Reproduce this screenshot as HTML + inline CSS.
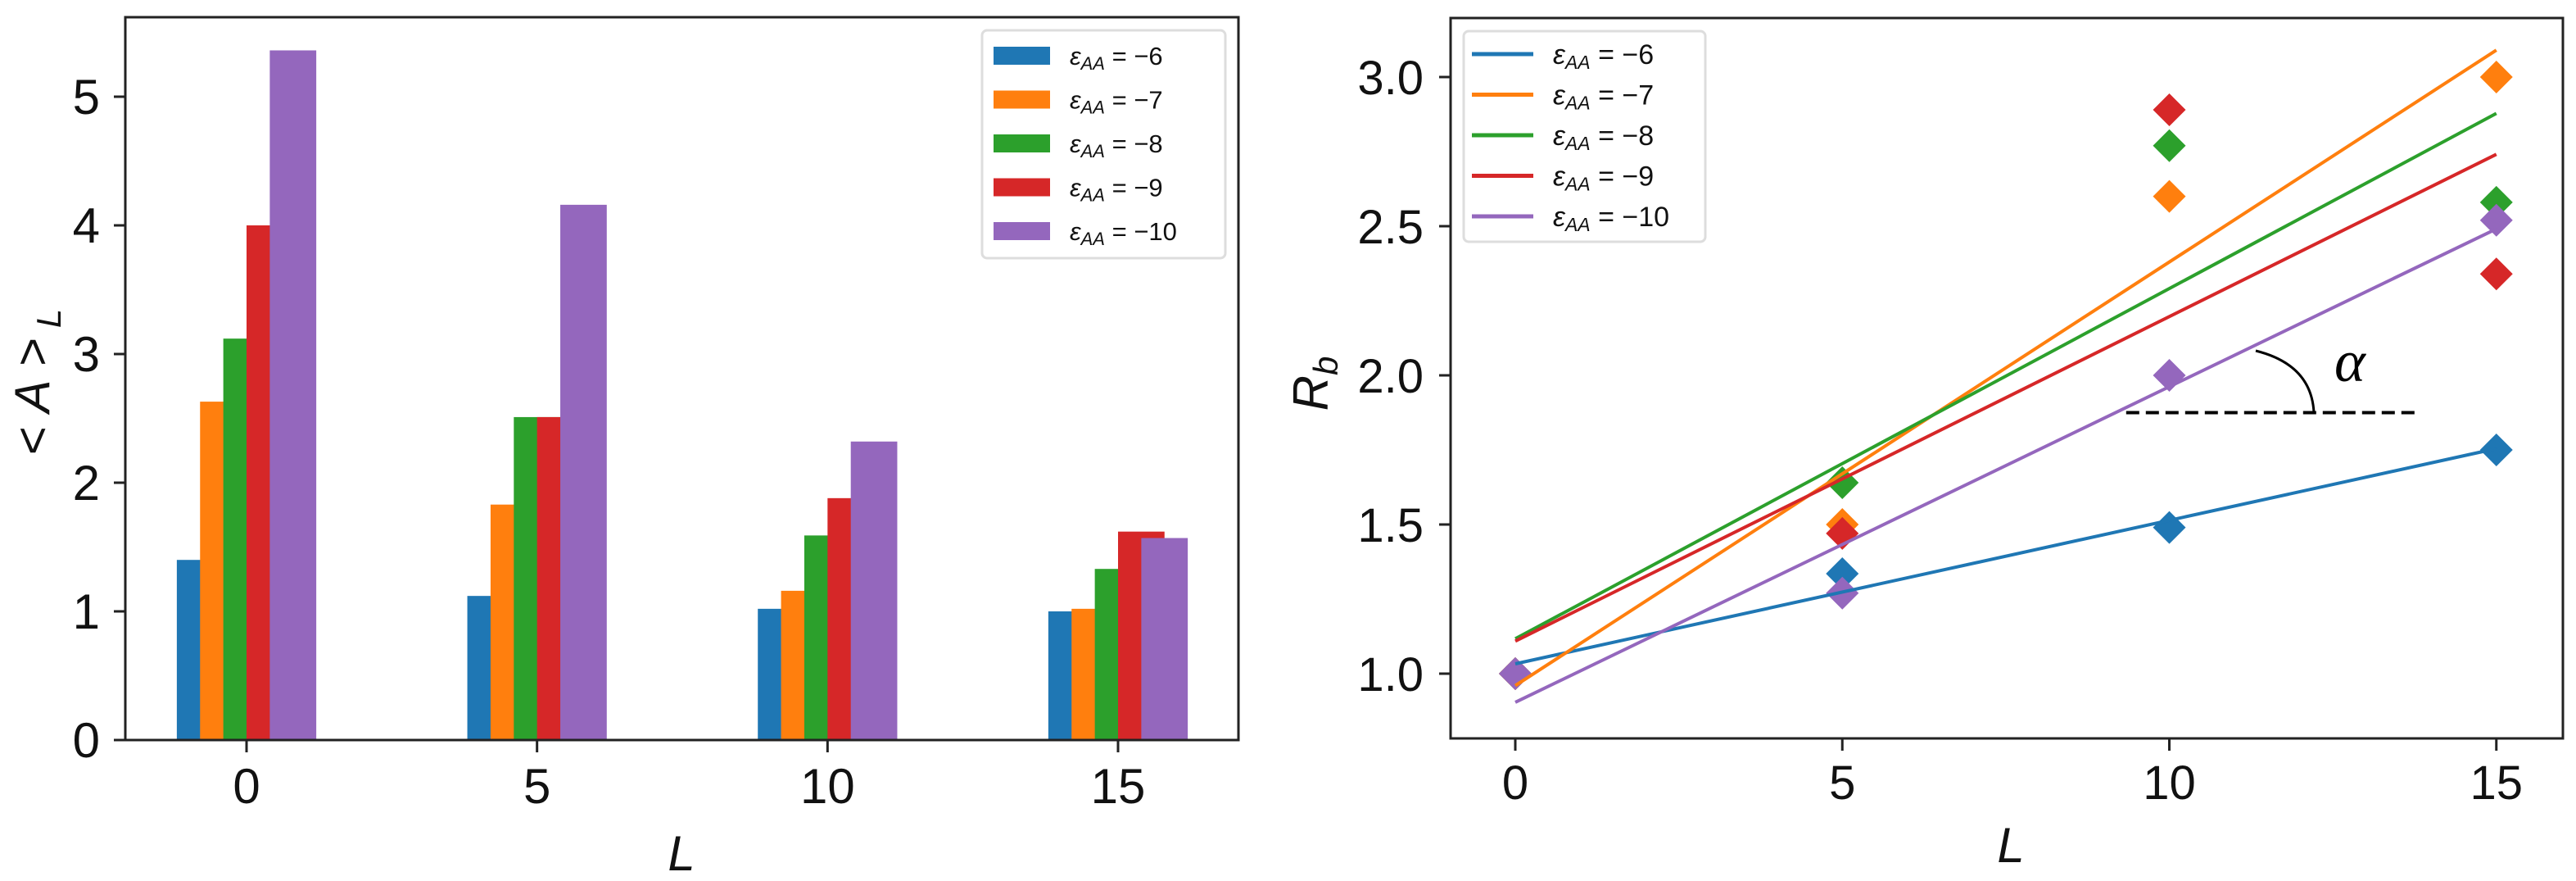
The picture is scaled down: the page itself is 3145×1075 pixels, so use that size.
<!DOCTYPE html>
<html><head><meta charset="utf-8">
<style>
html,body{margin:0;padding:0;background:#fff;}
svg{display:block;font-family:"Liberation Sans","DejaVu Sans",sans-serif;}
</style></head>
<body>
<svg id="fig" width="3145" height="1075" viewBox="0 0 3145 1075" xmlns="http://www.w3.org/2000/svg">
  <rect x="0" y="0" width="3145" height="1075" fill="#fff"/>
  <g id="left"></g>
  <g id="right"></g>
</svg>
<script>
// ---------- data ----------
const seriesLabels = ["−6", "−7", "−8", "−9", "−10"];
const colors = ["#1f77b4", "#ff7f0e", "#2ca02c", "#d62728", "#9467bd"];
const barCategories = [0, 5, 10, 15];
const barEps6 = [1.40, 1.12, 1.02, 1.00];
const barEps7 = [2.63, 1.83, 1.16, 1.02];
const barEps8 = [3.12, 2.51, 1.59, 1.33];
const barEps9 = [4.00, 2.51, 1.88, 1.62];
const barEps10 = [5.36, 4.16, 2.32, 1.57];
const leftYTicks = [0, 1, 2, 3, 4, 5];
const leftXTicks = [0, 5, 10, 15];

const ptX = [0, 5, 10, 15];
const rbEps6 = [1.00, 1.335, 1.49, 1.75];
const rbEps7 = [1.00, 1.50, 2.60, 3.00];
const rbEps8 = [1.00, 1.64, 2.77, 2.58];
const rbEps9 = [1.00, 1.47, 2.89, 2.34];
const rbEps10 = [1.00, 1.27, 2.00, 2.52];
const rightYTicks = [1.0, 1.5, 2.0, 2.5, 3.0];
const rightXTicks = [0, 5, 10, 15];
const dashY = [1.875];
const dashXRange = [9.34, 13.8];

const NS = "http://www.w3.org/2000/svg";
function mk(tag, attrs, parent) {
  const e = document.createElementNS(NS, tag);
  for (const k in attrs) e.setAttribute(k, attrs[k]);
  parent.appendChild(e);
  return e;
}

// ---------- left chart ----------
const L = document.getElementById('left');
const lx = v => 301 + (v - 0) * (1365 - 301) / 15;
const ly = v => 903 - v * 157;
const barSets = [barEps6, barEps7, barEps8, barEps9, barEps10];
const barW = 0.8;
barSets.forEach((vals, s) => {
  vals.forEach((v, i) => {
    const c = barCategories[i] + (s - 2) * 0.4;
    const r = mk('rect', {x: lx(c - barW / 2), y: ly(v), width: lx(barW) - lx(0), height: ly(0) - ly(v), fill: colors[s]}, L);
    
    
  });
});
let fr = mk('rect', {x: 153, y: 21, width: 1512 - 153, height: 903 - 21, fill: 'none', stroke: '#222', 'stroke-width': 3}, L);


leftYTicks.forEach(t => {
  mk('line', {x1: 139, x2: 153, y1: ly(t), y2: ly(t), stroke: '#222', 'stroke-width': 3}, L);
  const tx = mk('text', {x: 122, y: ly(t) + 21, 'font-size': 60, 'text-anchor': 'end', fill: '#111'}, L);
  tx.textContent = t;
  
  
});
leftXTicks.forEach(t => {
  mk('line', {x1: lx(t), x2: lx(t), y1: 903, y2: 918, stroke: '#222', 'stroke-width': 3}, L);
  const tx = mk('text', {x: lx(t), y: 980, 'font-size': 60, 'text-anchor': 'middle', fill: '#111'}, L);
  tx.textContent = t;
  
  
});
let xl = mk('text', {x: 832, y: 1062, 'font-size': 60, 'font-style': 'italic', 'text-anchor': 'middle', fill: '#111'}, L);
xl.textContent = 'L';


let yl = mk('text', {x: 0, y: 0, 'font-size': 60, 'text-anchor': 'middle', fill: '#111', transform: 'translate(60,466) rotate(-90)'}, L);
yl.innerHTML = '&lt; <tspan font-style="italic">A</tspan> &gt;<tspan font-size="42" font-style="italic" dy="14"> L</tspan>';


// legend left
let lg = mk('g', {}, L);


mk('rect', {x: 1199, y: 37, width: 297, height: 278, rx: 6, fill: '#fff', stroke: '#ddd', 'stroke-width': 3}, lg);
seriesLabels.forEach((lab, s) => {
  const cy = 68 + s * 53.5;
  const p = mk('rect', {x: 1213, y: cy - 11, width: 69, height: 22, fill: colors[s]}, lg);
  
  
  const t = mk('text', {x: 1306, y: cy + 11, 'font-size': 31, fill: '#111'}, lg);
  t.innerHTML = '<tspan font-style="italic">ε</tspan><tspan font-size="22" font-style="italic" dy="6">AA</tspan><tspan dy="-6"> = ' + lab + '</tspan>';
  
  
});

// ---------- right chart ----------
const R = document.getElementById('right');
const rx = v => 1850 + v * 79.85;
const ry = v => 822 - (v - 1) * 364;
let fr2 = mk('rect', {x: 1771, y: 22, width: 3129 - 1771, height: 901 - 22, fill: 'none', stroke: '#222', 'stroke-width': 3}, R);


rightYTicks.forEach(t => {
  mk('line', {x1: 1757, x2: 1771, y1: ry(t), y2: ry(t), stroke: '#222', 'stroke-width': 3}, R);
  const tx = mk('text', {x: 1738, y: ry(t) + 21, 'font-size': 58, 'text-anchor': 'end', fill: '#111'}, R);
  tx.textContent = t.toFixed(1);
  
  
});
rightXTicks.forEach(t => {
  mk('line', {x1: rx(t), x2: rx(t), y1: 901, y2: 916, stroke: '#222', 'stroke-width': 3}, R);
  const tx = mk('text', {x: rx(t), y: 975, 'font-size': 58, 'text-anchor': 'middle', fill: '#111'}, R);
  tx.textContent = t;
  
  
});
let xl2 = mk('text', {x: 2455, y: 1052, 'font-size': 60, 'font-style': 'italic', 'text-anchor': 'middle', fill: '#111'}, R);
xl2.textContent = 'L';


let yl2 = mk('text', {x: 0, y: 0, 'font-size': 60, 'text-anchor': 'middle', fill: '#111', transform: 'translate(1621,468) rotate(-90)'}, R);
yl2.innerHTML = '<tspan font-style="italic">R</tspan><tspan font-size="42" font-style="italic" dy="12">b</tspan>';



const rbSets = [rbEps6, rbEps7, rbEps8, rbEps9, rbEps10];
function fit(xs, ys) {
  const n = xs.length;
  const mx = xs.reduce((a, b) => a + b, 0) / n, my = ys.reduce((a, b) => a + b, 0) / n;
  let sxy = 0, sxx = 0;
  for (let i = 0; i < n; i++) { sxy += (xs[i] - mx) * (ys[i] - my); sxx += (xs[i] - mx) ** 2; }
  const m = sxy / sxx;
  return [m, my - m * mx];
}
// diamonds
rbSets.forEach((ys, s) => {
  ys.forEach((v, i) => {
    const cx = rx(ptX[i]), cy = ry(v), h = 20;
    const d = mk('polygon', {points: `${cx},${cy - h} ${cx + h},${cy} ${cx},${cy + h} ${cx - h},${cy}`, fill: colors[s]}, R);
    
    
  });
});
// fit lines
rbSets.forEach((ys, s) => {
  const [m, b] = fit(ptX, ys);
  const x0 = ptX[0], x1 = ptX[ptX.length - 1];
  const ln = mk('line', {x1: rx(x0), y1: ry(b + m * x0), x2: rx(x1), y2: ry(b + m * x1), stroke: colors[s], 'stroke-width': 4}, R);
  
  
});
// alpha annotation
let dl = mk('line', {x1: rx(dashXRange[0]), x2: rx(dashXRange[1]), y1: ry(dashY[0]), y2: ry(dashY[0]), stroke: '#000', 'stroke-width': 4, 'stroke-dasharray': '16 8'}, R);


let arc = mk('path', {d: `M 2754 428 Q 2822 445 2825 ${ry(dashY[0])}`, fill: 'none', stroke: '#000', 'stroke-width': 3}, R);


let al = mk('text', {x: 2850, y: 465, 'font-size': 72, 'font-style': 'italic', fill: '#000', 'font-family': '"Liberation Serif", serif'}, R);
al.textContent = 'α';


// legend right
let lg2 = mk('g', {}, R);


mk('rect', {x: 1787, y: 38, width: 295, height: 257, rx: 6, fill: '#fff', 'fill-opacity': 0.8, stroke: '#ddd', 'stroke-width': 3}, lg2);
seriesLabels.forEach((lab, s) => {
  const cy = 66 + s * 49.5;
  const p = mk('line', {x1: 1797, x2: 1872, y1: cy, y2: cy, stroke: colors[s], 'stroke-width': 5}, lg2);
  
  
  const t = mk('text', {x: 1896, y: cy + 12, 'font-size': 34, fill: '#111'}, lg2);
  t.innerHTML = '<tspan font-style="italic">ε</tspan><tspan font-size="23" font-style="italic" dy="6">AA</tspan><tspan dy="-6"> = ' + lab + '</tspan>';
  
  
});
</script>
</body></html>
